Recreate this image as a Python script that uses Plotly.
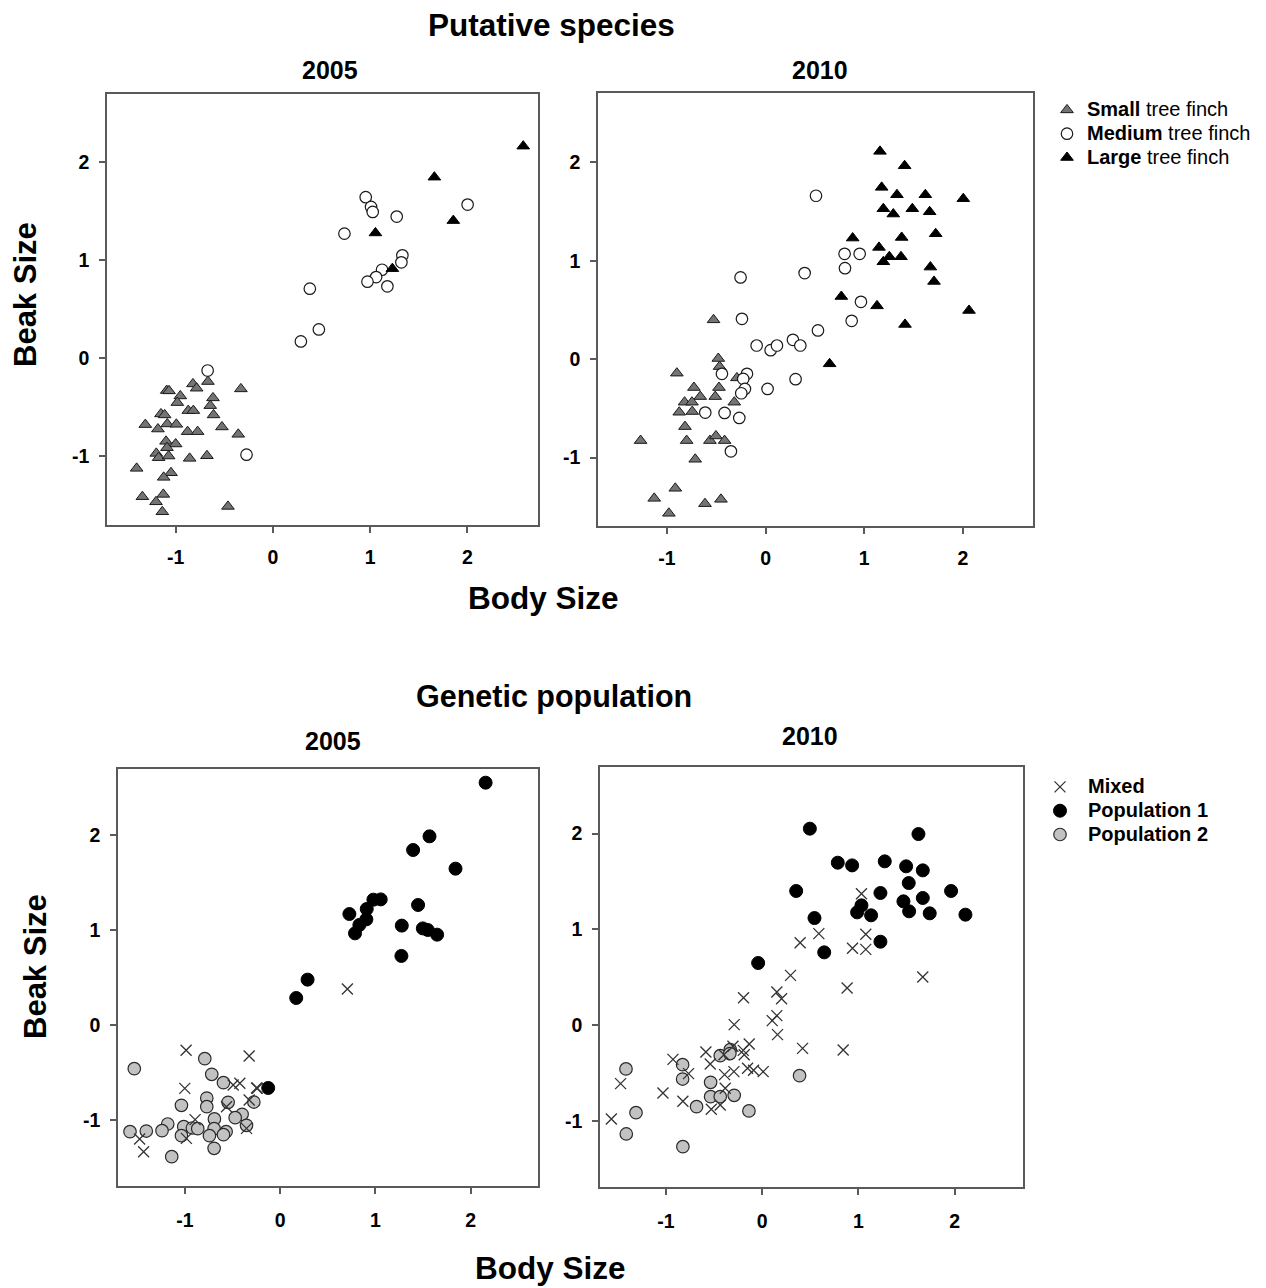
import plotly.graph_objects as go

# ---------------- DATA ----------------
# Putative species, 2005
small_2005_x = [-0.822, -0.668, -0.784, -1.092, -1.068, -0.952, -0.329, -0.616, -0.983, -0.644,
                -0.870, -0.818, -1.151, -1.113, -0.610, -1.312, -1.086, -0.993, -1.182, -0.524,
                -0.877, -0.774, -0.356, -1.099, -1.000, -1.089, -1.199, -1.175, -1.072, -0.856,
                -0.678, -1.401, -1.048, -1.123, -1.342, -1.127, -1.202, -1.137, -0.462]
small_2005_y = [-0.263, -0.239, -0.307, -0.331, -0.334, -0.386, -0.314, -0.406, -0.454, -0.485,
                -0.536, -0.536, -0.570, -0.580, -0.580, -0.679, -0.672, -0.676, -0.724, -0.703,
                -0.751, -0.751, -0.778, -0.850, -0.877, -0.915, -0.973, -1.017, -1.000, -1.024,
                -0.997, -1.126, -1.171, -1.218, -1.416, -1.392, -1.468, -1.570, -1.515]
medium_2005_x = [0.955, 1.010, 1.027, 1.274, 2.003, 0.736, 1.332, 1.322, 1.123, 1.062,
                 0.973, 1.178, 0.380, 0.473, 0.288, -0.671, -0.271]
medium_2005_y = [1.645, 1.546, 1.495, 1.447, 1.570, 1.273, 1.051, 0.980, 0.904, 0.829,
                 0.782, 0.734, 0.710, 0.294, 0.171, -0.126, -0.986]
large_2005_x = [2.575, 1.661, 1.856, 1.055, 1.229]
large_2005_y = [2.167, 1.850, 1.406, 1.280, 0.915]

# Putative species, 2010
small_2010_x = [-0.528, -0.480, -0.467, -0.900, -0.291, -0.727, -0.473, -0.663, -0.511, -0.822,
                -0.747, -0.318, -0.876, -0.744, -0.818, -1.268, -0.801, -0.565, -0.504, -0.416,
                -0.714, -0.916, -1.130, -0.981, -0.615, -0.453]
small_2010_y = [0.400, 0.007, -0.075, -0.142, -0.190, -0.288, -0.288, -0.380, -0.380, -0.437,
                -0.437, -0.437, -0.539, -0.532, -0.685, -0.827, -0.827, -0.827, -0.780, -0.827,
                -1.017, -1.312, -1.414, -1.566, -1.468, -1.424]
medium_2010_x = [0.511, 0.801, 0.954, 0.805, 0.396, -0.254, 0.967, -0.240, 0.873, 0.531,
                 -0.091, 0.051, 0.115, 0.277, 0.352, -0.443, -0.189, -0.227, 0.304, -0.210,
                 0.020, -0.247, -0.612, -0.416, -0.267, -0.352]
medium_2010_y = [1.661, 1.071, 1.071, 0.925, 0.875, 0.831, 0.583, 0.410, 0.390, 0.292,
                 0.139, 0.092, 0.139, 0.197, 0.139, -0.149, -0.149, -0.200, -0.203, -0.302,
                 -0.302, -0.346, -0.542, -0.546, -0.597, -0.936]
large_2010_x = [1.160, 1.410, 1.177, 1.332, 1.620, 2.005, 1.194, 1.295, 1.488, 1.664,
                0.883, 1.725, 1.380, 1.150, 1.255, 1.194, 1.373, 1.671, 1.708, 0.768,
                1.130, 2.063, 1.414, 0.649]
large_2010_y = [2.112, 1.966, 1.746, 1.671, 1.671, 1.631, 1.529, 1.475, 1.529, 1.498,
                1.231, 1.275, 1.237, 1.136, 1.041, 0.990, 1.041, 0.936, 0.790, 0.637,
                0.542, 0.495, 0.353, -0.047]

# Genetic population, 2005
mixed_2005_x = [0.705, -0.988, -0.326, -1.002, -0.424, -0.494, -0.249, -0.240, -0.326, -0.564,
                -0.894, -0.985, -1.476, -1.434, -0.354]
mixed_2005_y = [0.379, -0.266, -0.326, -0.666, -0.613, -0.631, -0.662, -0.665, -0.789, -0.859,
                -0.995, -1.192, -1.199, -1.332, -1.087]
pop1_2005_x = [2.156, 1.567, 1.395, 1.840, 0.978, 1.055, 0.908, 0.726, 0.904, 1.447,
               0.831, 0.785, 1.276, 1.497, 1.549, 1.647, 1.272, 0.287, 0.168, -0.126]
pop1_2005_y = [2.548, 1.984, 1.840, 1.644, 1.318, 1.321, 1.220, 1.167, 1.111, 1.262,
               1.052, 0.964, 1.045, 1.016, 0.999, 0.950, 0.726, 0.477, 0.284, -0.662]
pop2_2005_x = [-1.532, -0.792, -0.719, -0.596, -0.771, -0.771, -1.037, -0.547, -0.277, -0.400,
               -0.473, -0.691, -1.181, -1.013, -0.922, -0.866, -0.694, -0.568, -0.354, -1.577,
               -1.406, -1.241, -1.037, -0.743, -0.596, -0.694, -1.139]
pop2_2005_y = [-0.459, -0.354, -0.519, -0.606, -0.768, -0.859, -0.845, -0.813, -0.810, -0.939,
               -0.974, -0.988, -1.041, -1.069, -1.083, -1.090, -1.090, -1.122, -1.055, -1.122,
               -1.115, -1.111, -1.164, -1.164, -1.153, -1.297, -1.385]

# Genetic population, 2010
mixed_2010_x = [1.031, 1.076, 0.588, 0.394, 0.938, 1.076, 1.668, 0.294, 0.882, 0.152,
                0.201, -0.194, 0.152, 0.104, -0.291, 0.159, -0.135, -0.304, 0.419, 0.841,
                -0.585, -0.197, -0.187, -0.398, -0.927, -0.540, -0.152, -0.090, 0.010, -0.294,
                -0.391, -0.765, -1.471, -1.031, -0.384, -0.824, -0.436, -0.529, -1.567]
mixed_2010_y = [1.373, 0.949, 0.956, 0.862, 0.803, 0.792, 0.504, 0.521, 0.389, 0.348,
                0.278, 0.288, 0.101, 0.049, 0.007, -0.097, -0.195, -0.219, -0.240, -0.257,
                -0.278, -0.261, -0.306, -0.306, -0.355, -0.403, -0.448, -0.469, -0.483, -0.483,
                -0.514, -0.504, -0.608, -0.706, -0.657, -0.792, -0.831, -0.876, -0.977]
pop1_2010_x = [0.495, 1.623, 0.785, 0.934, 1.273, 1.495, 1.668, 1.522, 0.353, 1.962,
               1.228, 1.467, 1.668, 1.031, 0.986, 1.131, 1.526, 1.740, 2.111, 0.543,
               1.228, 0.644, -0.042]
pop1_2010_y = [2.051, 1.995, 1.696, 1.668, 1.710, 1.658, 1.616, 1.484, 1.401, 1.401,
               1.380, 1.293, 1.328, 1.251, 1.178, 1.147, 1.189, 1.168, 1.154, 1.119,
               0.872, 0.761, 0.650]
pop2_2010_x = [-1.415, -0.827, -0.827, -0.436, -0.332, -0.336, -0.536, -0.536, -0.436, -0.291,
               -0.682, -0.138, -1.311, 0.388, -1.412, -0.824]
pop2_2010_y = [-0.455, -0.410, -0.560, -0.316, -0.254, -0.295, -0.594, -0.744, -0.744, -0.730,
               -0.848, -0.893, -0.911, -0.525, -1.133, -1.265]

tick_vals = [-1, 0, 1, 2]
tick_text = ["-1", "0", "1", "2"]

# legend labels
lab_small = "<b>Small</b> tree finch"
lab_medium = "<b>Medium</b> tree finch"
lab_large = "<b>Large</b> tree finch"
lab_mixed = "<b>Mixed</b>"
lab_pop1 = "<b>Population 1</b>"
lab_pop2 = "<b>Population 2</b>"

# ---------------- LAYOUT HELPERS ----------------
W, H = 1266, 1288
FONT = "Arial, 'Liberation Sans', sans-serif"


def px_x(p):
    return p / W


def px_y(p):
    return 1 - p / H


# panel boxes in pixels: (left, top, right, bottom), axis ranges, label offsets
panels = {
    1: dict(box=(107, 94, 538, 525), xr=[-1.706, 2.727], yr=[-1.705, 2.70], xs=8, ys=6),
    2: dict(box=(598, 93, 1033, 526), xr=[-1.70, 2.712], yr=[-1.695, 2.705], xs=8, ys=6),
    3: dict(box=(118, 769, 538, 1186), xr=[-1.703, 2.706], yr=[-1.693, 2.692], xs=10, ys=6),
    4: dict(box=(600, 767, 1023, 1187), xr=[-1.685, 2.709], yr=[-1.686, 2.694], xs=10, ys=6),
}

fig = go.Figure()

tri_small = dict(symbol="triangle-up", size=11, color="#747474", line=dict(color="#1a1a1a", width=1))
circ_med = dict(symbol="circle", size=11.5, color="white", line=dict(color="#1a1a1a", width=1.2))
tri_large = dict(symbol="triangle-up", size=11, color="black", line=dict(color="black", width=1))
x_mixed = dict(symbol="x-thin", size=11, color="#333", line=dict(color="#333333", width=1.3))
circ_p1 = dict(symbol="circle", size=13, color="black", line=dict(color="black", width=1))
circ_p2 = dict(symbol="circle", size=12.5, color="#c2c2c2", line=dict(color="#2a2a2a", width=1.2))

# (panel, label, x, y, marker, legend, rank, show in legend)
series = [
    (1, lab_small, small_2005_x, small_2005_y, tri_small, "legend", 1, False),
    (1, lab_medium, medium_2005_x, medium_2005_y, circ_med, "legend", 2, False),
    (1, lab_large, large_2005_x, large_2005_y, tri_large, "legend", 3, False),
    (2, lab_small, small_2010_x, small_2010_y, tri_small, "legend", 1, True),
    (2, lab_medium, medium_2010_x, medium_2010_y, circ_med, "legend", 2, True),
    (2, lab_large, large_2010_x, large_2010_y, tri_large, "legend", 3, True),
    (3, lab_pop2, pop2_2005_x, pop2_2005_y, circ_p2, "legend2", 3, False),
    (3, lab_mixed, mixed_2005_x, mixed_2005_y, x_mixed, "legend2", 1, False),
    (3, lab_pop1, pop1_2005_x, pop1_2005_y, circ_p1, "legend2", 2, False),
    (4, lab_pop2, pop2_2010_x, pop2_2010_y, circ_p2, "legend2", 3, True),
    (4, lab_mixed, mixed_2010_x, mixed_2010_y, x_mixed, "legend2", 1, True),
    (4, lab_pop1, pop1_2010_x, pop1_2010_y, circ_p1, "legend2", 2, True),
]

for k, name, xs, ys, mk, leg, rank, show in series:
    suffix = "" if k == 1 else str(k)
    fig.add_trace(go.Scatter(x=xs, y=ys, mode="markers", marker=mk,
                             name="<span style='font-size:20px'>" + name + "</span>",
                             legend=leg, legendrank=rank, showlegend=show,
                             xaxis="x" + suffix, yaxis="y" + suffix,
                             hoverinfo="x+y"))

layout_axes = {}
for k, p in panels.items():
    l, t, r, b = p["box"]
    suffix = "" if k == 1 else str(k)
    common = dict(showgrid=False, zeroline=False, showline=True, mirror=True,
                  linecolor="#5a5a5a", linewidth=1.5, ticks="outside", ticklen=6,
                  tickcolor="#5a5a5a", tickwidth=1.5, tickmode="array",
                  tickvals=tick_vals, ticktext=tick_text,
                  tickfont=dict(family=FONT, size=19.5, color="black", weight="bold"))
    layout_axes["xaxis" + suffix] = dict(common, domain=[px_x(l), px_x(r)], range=p["xr"],
                                         anchor="y" + suffix, ticklabelstandoff=p["xs"])
    layout_axes["yaxis" + suffix] = dict(common, domain=[px_y(b), px_y(t)], range=p["yr"],
                                         anchor="x" + suffix, ticklabelstandoff=p["ys"])

annotations = []


def text(px, py, s, size, angle=0):
    annotations.append(dict(x=px_x(px), y=px_y(py), xref="paper", yref="paper", text=s,
                            showarrow=False, xanchor="center", yanchor="middle", textangle=angle,
                            font=dict(family=FONT, size=size, color="black", weight="bold")))


text(551, 25, "Putative species", 31.5)
text(330, 70, "2005", 25)
text(820, 70, "2010", 25)
text(25, 295, "Beak Size", 31, angle=-90)
text(543, 598, "Body Size", 31.5)

text(554, 696, "Genetic population", 30.5)
text(333, 741, "2005", 25)
text(810, 736, "2010", 25)
text(35, 967, "Beak Size", 31, angle=-90)
text(550, 1268, "Body Size", 31.5)

legend_common = dict(xanchor="left", yanchor="top", bgcolor="rgba(0,0,0,0)", borderwidth=0,
                     font=dict(family=FONT, size=16, color="black"), itemsizing="trace",
                     traceorder="normal", tracegroupgap=0)

fig.update_layout(width=W, height=H, margin=dict(l=0, r=0, t=0, b=0), autosize=False,
                  paper_bgcolor="white", plot_bgcolor="white", showlegend=True,
                  legend=dict(legend_common, x=px_x(1047), y=px_y(93)),
                  legend2=dict(legend_common, x=px_x(1032), y=px_y(770), itemwidth=46),
                  annotations=annotations, **layout_axes)

fig.write_html("out.html", config={"displayModeBar": False},
               post_script="document.body.style.margin='0';document.body.style.overflow='hidden';")
